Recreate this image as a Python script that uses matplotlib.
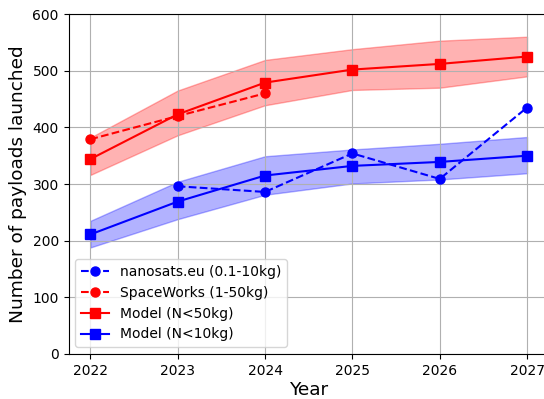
import matplotlib
matplotlib.use("Agg")
import matplotlib.pyplot as plt
import numpy as np

years = [2022, 2023, 2024, 2025, 2026, 2027]

# Model forecast, payloads below 50 kg
model50 = [344, 423, 479, 502, 512, 525]
model50_low = [316, 386, 439, 466, 470, 490]
model50_high = [382, 465, 519, 538, 553, 560]

# Model forecast, payloads below 10 kg
model10 = [211, 269, 315, 332, 339, 350]
model10_low = [188, 238, 281, 301, 308, 319]
model10_high = [235, 304, 349, 361, 371, 383]

# Reference forecasts
nanosats_years = [2023, 2024, 2025, 2026, 2027]
nanosats = [296, 286, 354, 309, 435]
spaceworks_years = [2022, 2023, 2024]
spaceworks = [379, 420, 460]

fig = plt.figure(figsize=(5.44, 3.99), dpi=100)
ax = fig.add_axes([0.126, 0.1128, 0.883, 0.852])

ax.fill_between(years, model50_low, model50_high, color="red", alpha=0.3)
ax.fill_between(years, model10_low, model10_high, color="blue", alpha=0.3)

ax.plot(nanosats_years, nanosats, "b--o", markersize=6.5, label="nanosats.eu (0.1-10kg)")
ax.plot(spaceworks_years, spaceworks, "r--o", markersize=6.5, label="SpaceWorks (1-50kg)")
ax.plot(years, model50, "r-s", markersize=6.5, label="Model (N<50kg)")
ax.plot(years, model10, "b-s", markersize=6.5, label="Model (N<10kg)")

ax.set_ylim(0, 600)
ax.set_xlim(2021.75, 2027.25)
ax.set_xticks(years)
ax.grid(True)
ax.set_xlabel("Year", fontsize=13.3, labelpad=2.5)
ax.set_ylabel("Number of payloads launched", fontsize=13.3)
ax.legend(loc="lower left")

fig.savefig("out.png", dpi=100)
